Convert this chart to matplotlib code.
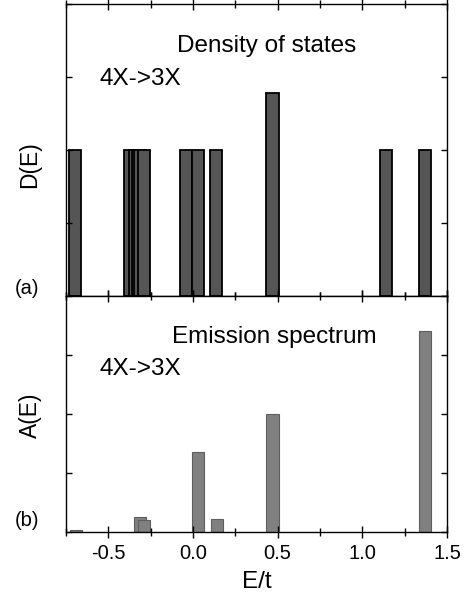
import matplotlib
matplotlib.use("Agg")
import matplotlib.pyplot as plt
from matplotlib.ticker import MultipleLocator, NullFormatter

plt.rcParams['font.family'] = ['Liberation Sans', 'DejaVu Sans']
plt.rcParams['axes.unicode_minus'] = False

# densidad de estados (panel a)
dos_e = [-0.695, -0.372, -0.343, -0.327, -0.313, -0.29, -0.043, 0.03, 0.137, 0.47, 1.14, 1.37]
dos_h = [1.0, 1.0, 1.0, 1.0, 1.0, 1.0, 1.0, 1.0, 1.0, 1.39, 1.0, 1.0]

# espectro de emision (panel b)
em_e = [-0.69, -0.315, -0.29, 0.03, 0.142, 0.47, 1.372]
em_h = [0.03, 0.25, 0.21, 1.36, 0.22, 2.0, 3.41]

ancho = 0.072
W, H = 469, 604

fig = plt.figure(figsize=(W / 100, H / 100), dpi=100)
ax1 = fig.add_axes([66 / W, 1 - 296 / H, (447 - 66) / W, (296 - 4) / H])
ax2 = fig.add_axes([66 / W, 1 - 532 / H, (447 - 66) / W, (532 - 296) / H])

ax1.bar(dos_e, dos_h, width=ancho, color='#555555', edgecolor='black', linewidth=1.3)
ax2.bar(em_e, em_h, width=ancho, color='#808080', edgecolor='#5e5e5e', linewidth=0.8)

ax1.set_ylim(0, 2.0)
ax2.set_ylim(0, 4.0)
ax1.yaxis.set_major_locator(MultipleLocator(0.5))
ax2.yaxis.set_major_locator(MultipleLocator(1.0))

for ax in (ax1, ax2):
    ax.set_xlim(-0.75, 1.5)
    ax.xaxis.set_major_locator(MultipleLocator(0.5))
    ax.xaxis.set_minor_locator(MultipleLocator(0.25))
    ax.tick_params(axis='x', which='major', direction='inout', length=9, width=1.0,
                   top=True, bottom=True)
    ax.tick_params(axis='x', which='minor', direction='inout', length=6, width=1.0,
                   top=True, bottom=True)
    ax.tick_params(axis='y', which='major', direction='in', length=4, width=1.0,
                   left=True, right=True, labelleft=False)
    for s in ax.spines.values():
        s.set_linewidth(1.0)

ax1.xaxis.set_major_formatter(NullFormatter())
ax2.tick_params(axis='x', which='major', labelsize=14.5, pad=4)

ax1.text(0.526, 0.835, 'Density of states', transform=ax1.transAxes, fontsize=17.5,
         ha='center', va='baseline')
ax1.text(0.087, 0.723, '4X->3X', transform=ax1.transAxes, fontsize=17.5,
         ha='left', va='baseline')
ax2.text(0.546, 0.80, 'Emission spectrum', transform=ax2.transAxes, fontsize=17.5,
         ha='center', va='baseline')
ax2.text(0.087, 0.665, '4X->3X', transform=ax2.transAxes, fontsize=17.5,
         ha='left', va='baseline')

fig.text(30 / W, 1 - 165 / H, 'D(E)', rotation=90, fontsize=16.5, ha='center', va='center')
fig.text(30 / W, 1 - 415 / H, 'A(E)', rotation=90, fontsize=16.5, ha='center', va='center')
fig.text(27 / W, 1 - 289 / H, '(a)', fontsize=14.5, ha='center', va='center')
fig.text(27 / W, 1 - 521 / H, '(b)', fontsize=14.5, ha='center', va='center')
fig.text(257 / W, 1 - 582 / H, 'E/t', fontsize=17.5, ha='center', va='center')

fig.savefig('out.png', dpi=100)
